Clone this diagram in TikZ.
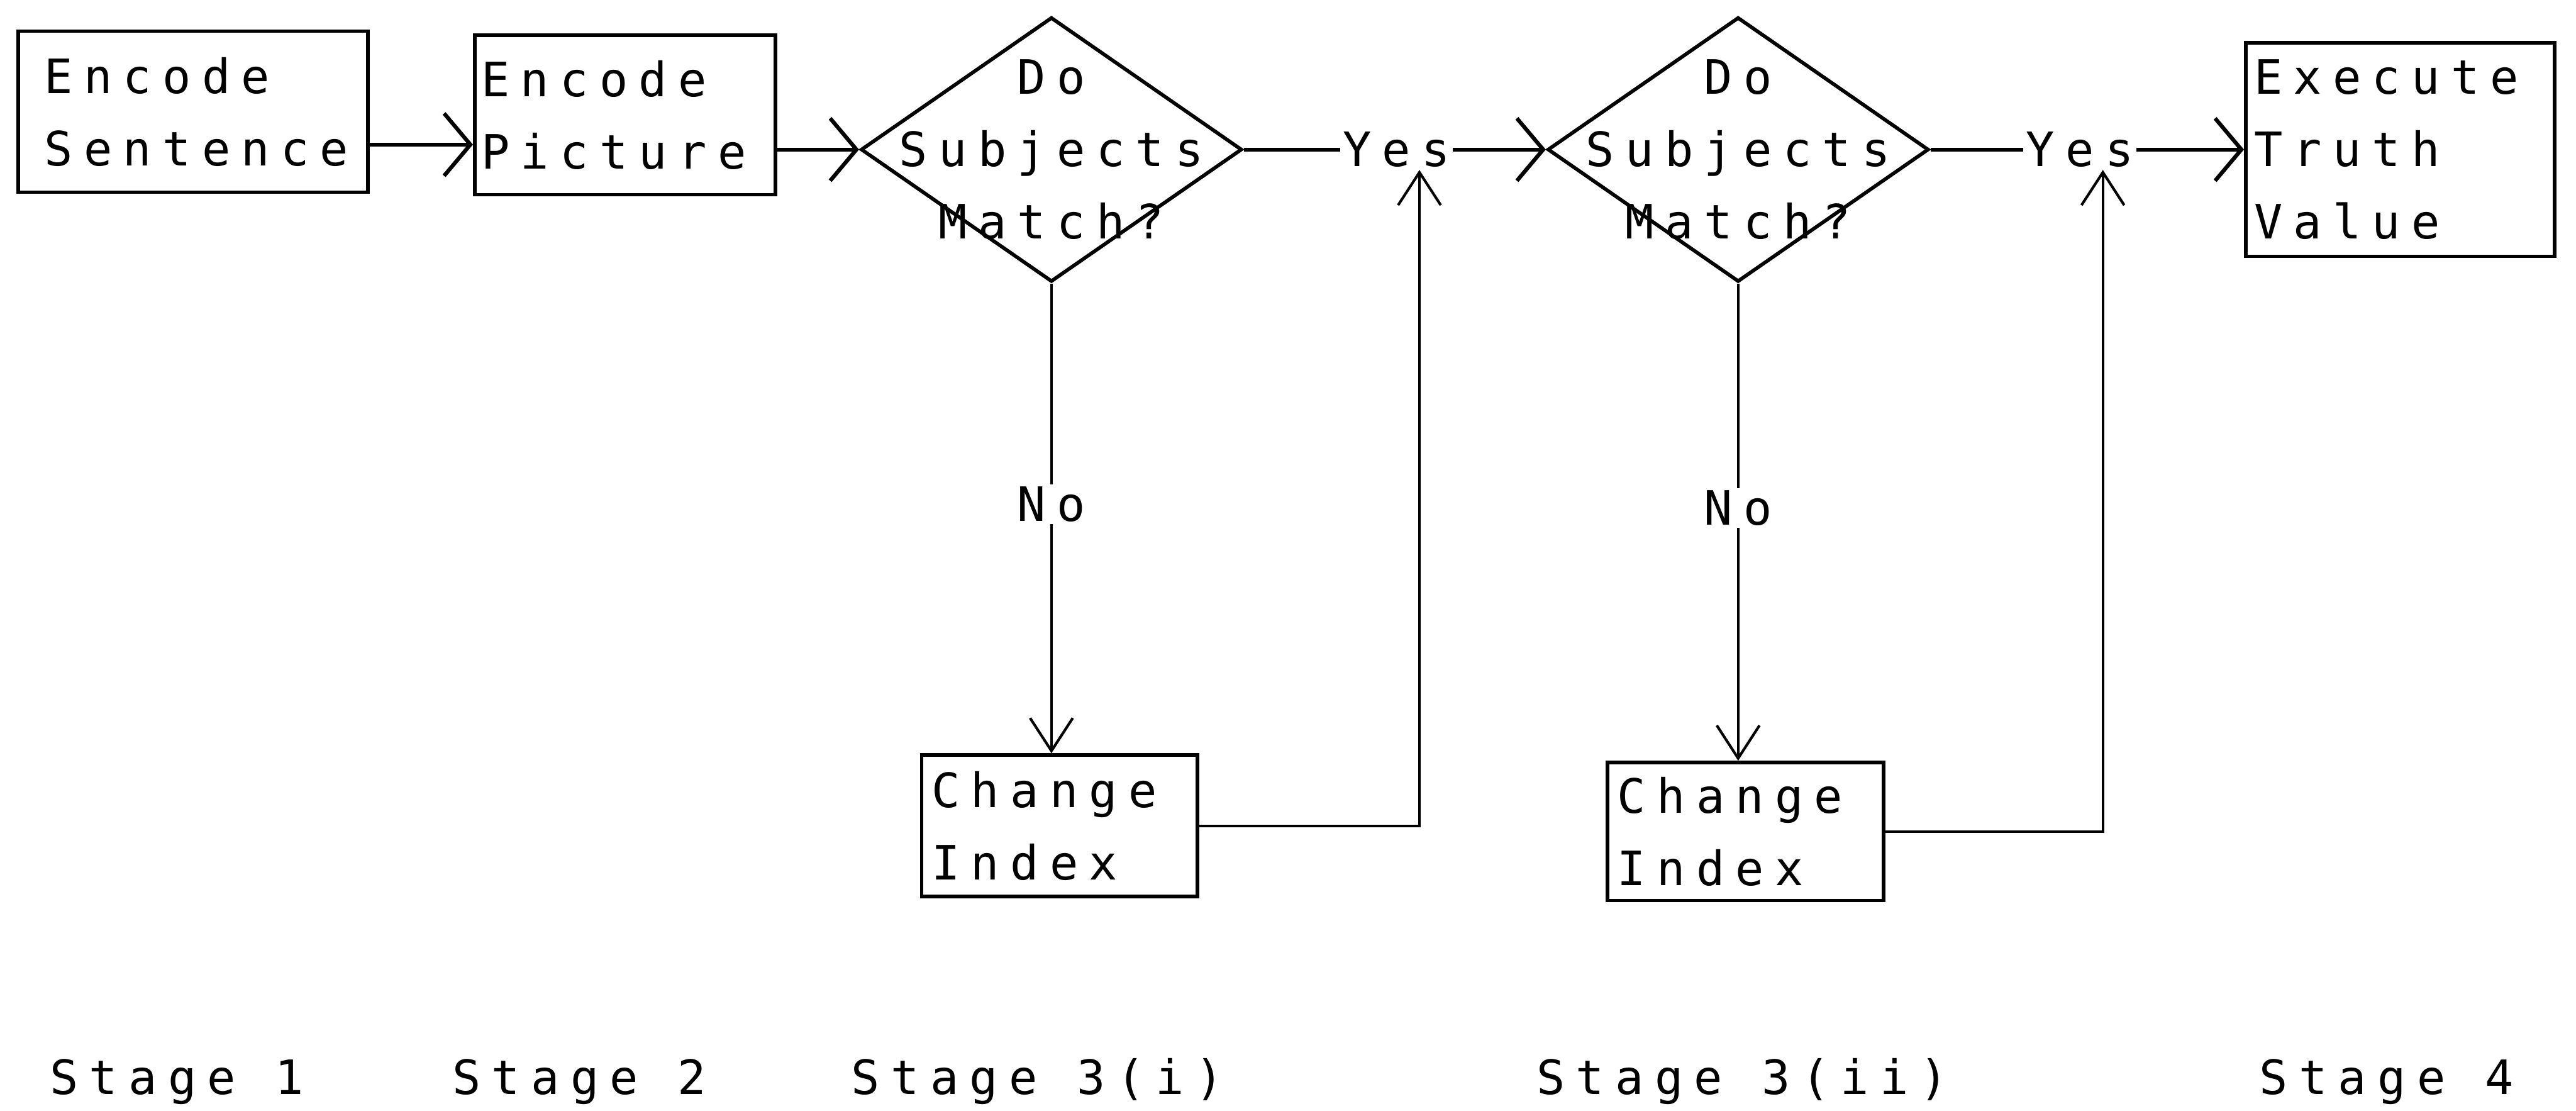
\documentclass[tikz,border=0pt]{standalone}
\usepackage{fontspec}
\newfontfamily\dotfont{DejaVu Sans Mono}[LetterSpace=23]
\usetikzlibrary{arrows.meta, positioning, shapes.geometric, calc}

\begin{document}
\begin{tikzpicture}[x=0.25mm, y=-0.25mm,
  every node/.style={font=\dotfont\fontsize{20.5}{31.3}\selectfont},
  procbox/.style={draw, line width=0.55mm, align=left, inner ysep=0pt},
  decision/.style={draw, diamond, line width=0.55mm, inner sep=0pt,
      minimum width=58mm, minimum height=40.25mm},
  word/.style={inner sep=1pt},
  harrow/.style={line width=0.6mm, -{Straight Barb[length=4mm, width=9.5mm]}},
  varrow/.style={line width=0.4mm, -{Straight Barb[length=5mm, width=6.5mm]}},
]
\useasboundingbox (0,0) rectangle (1568,676);

% === Stage 1 and 2: encoding ===
\node[procbox, minimum width=53.25mm, minimum height=24.5mm,
      inner xsep=4mm, text width=45.25mm] (sent) at (117.5,68) {Encode\\Sentence};
\node[procbox, minimum width=45.75mm, minimum height=24.25mm,
      inner xsep=1mm, text width=43.75mm] (pict) at (380.5,70) {Encode\\Picture};

% === Stage 3(i): first comparison ===
\node[decision] (cmpA) at (640,91) {};
\node[align=center, inner sep=0pt] at (cmpA) {Do\\Subjects\\Match?};
\node[word] (yesA) at (850,91) {Yes};
\node[procbox, minimum width=42mm, minimum height=21.5mm,
      inner xsep=1.5mm, text width=39mm] (chgA) at (645,502.5) {Change\\Index};

% === Stage 3(ii): second comparison ===
\node[decision] (cmpB) at (1058,91) {};
\node[align=center, inner sep=0pt] at (cmpB) {Do\\Subjects\\Match?};
\node[word] (yesB) at (1266,91) {Yes};
\node[procbox, minimum width=42mm, minimum height=21mm,
      inner xsep=1.5mm, text width=39mm] (chgB) at (1062.5,506) {Change\\Index};

% === Stage 4 ===
\node[procbox, minimum width=47mm, minimum height=32.5mm,
      inner xsep=1.25mm, text width=44.5mm] (truth) at (1461,91) {Execute\\Truth\\Value};

% Main flow
\draw[harrow] ([yshift=-5mm]sent.east) -- ([yshift=-5mm]sent.east -| pict.west);
\draw[harrow] (pict.east |- cmpA.west) -- (cmpA.west);
\draw[line width=0.6mm] (cmpA.east) -- (yesA.west);
\draw[harrow] (yesA.east) -- (cmpB.west);
\draw[line width=0.6mm] (cmpB.east) -- (yesB.west);
\draw[harrow] (yesB.east) -- (truth.west);

% No branches and loops back
\draw[varrow] (cmpA.south) -- (cmpA.south |- chgA.north) node[word, fill=white, pos=0.47] {No};
\draw[varrow] (cmpB.south) -- (cmpB.south |- chgB.north) node[word, fill=white, pos=0.47] {No};
\draw[varrow] (chgA.east) -| ([xshift=3.5mm]yesA.south);
\draw[varrow] (chgB.east) -| ([xshift=3.5mm]yesB.south);

% Stage labels
\foreach \sx/\st [count=\i] in {30/Stage 1, 275/Stage 2, 518/Stage 3(i), 935/Stage 3(ii), 1375/Stage 4}
  \node[anchor=base west, inner sep=0pt] (stage\i) at (\sx,666) {\st};

\end{tikzpicture}
\end{document}
